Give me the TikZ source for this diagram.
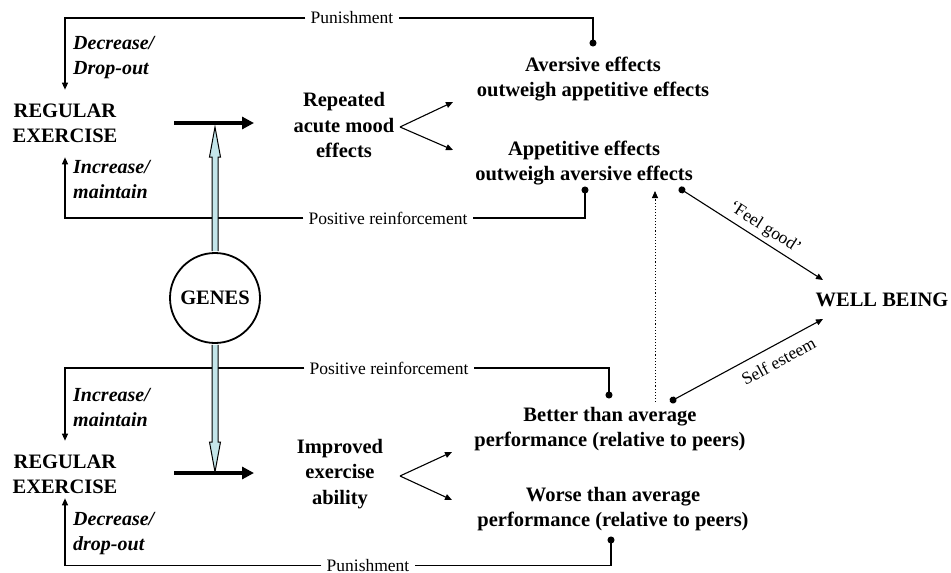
\documentclass[tikz,border=0pt]{standalone}
\usepackage{fontspec}
\setmainfont{Liberation Serif}
\usetikzlibrary{arrows.meta,calc}

\definecolor{geneblue}{RGB}{196,230,234}

\tikzset{
  bold/.style={font=\fontsize{20.5}{25.5}\selectfont\bfseries, align=center, inner sep=0pt},
  exer/.style={bold, inner ysep=14pt},
  change/.style={font=\fontsize{20}{25}\selectfont\bfseries\itshape, align=left, anchor=west, inner sep=0pt},
  lab/.style={font=\fontsize{17.5}{20}\selectfont, inner sep=5pt},
  feed/.style={line width=1.1pt, -{Triangle[length=7pt,width=6pt]}},
  dotline/.style={line width=1.1pt, {Circle[length=7pt]}-},
  dotarrow/.style={line width=1.1pt, {Circle[length=7pt]}-{Triangle[length=7pt,width=6pt]}},
  fat/.style={line width=4.5pt, -{Triangle[length=12pt,width=12pt]}},
  genearrow/.style={fill=geneblue, draw=black, line width=1pt},
}

\begin{document}
\begin{tikzpicture}[x=1pt, y=-1pt]
\useasboundingbox (0,0) rectangle (951,573);
% exercise and how it changes
\node[exer] (ex1) at (65,123.5) {REGULAR\\EXERCISE};
\node[exer] (ex2) at (65,474.5) {REGULAR\\EXERCISE};
\node[change] (dec1) at (73,57.5) {Decrease/\\Drop-out};
\node[change] (inc1) at (73,180) {Increase/\\maintain};
\node[change] (inc2) at (73,408) {Increase/\\maintain};
\node[change] (dec2) at (73,534) {Decrease/\\drop-out};
% effects
\node[bold] (mood) at (344,125) {Repeated\\acute mood\\effects};
\node[bold] (abil) at (340,474) {Improved\\exercise\\ability};
\node[bold] (avers) at (593,79) {Aversive effects\\outweigh appetitive effects};
\node[bold] (appet) at (584,163) {Appetitive effects\\outweigh aversive effects};
\node[bold] (better) at (610,429) {Better than average\\performance (relative to peers)};
\node[bold] (worse) at (613,509) {Worse than average\\performance (relative to peers)};
\node[bold] (well) at (882,300) {WELL BEING};
% labels on the feedback lines
\node[lab] (pun1) at (352,18) {Punishment};
\node[lab] (pos1) at (388,218) {Positive reinforcement};
\node[lab] (pos2) at (389,368) {Positive reinforcement};
\node[lab] (pun2) at (368,565.5) {Punishment};
% ends of the connectors
\coordinate (av-d) at (593,46.5);
\coordinate (ap-d) at (585,186.5);
\coordinate (ap-d2) at (679,188);
\coordinate (ap-dn) at (655,191);
\coordinate (bt-d) at (609,398.5);
\coordinate (bt-d2) at (670,401.7);
\coordinate (bt-up) at (655,402);
\coordinate (wo-d) at (611,536.5);
\coordinate (mood-o) at (400,127);
\coordinate (av-in) at (453,102);
\coordinate (ap-in) at (453,150);
\coordinate (abil-o) at (400,476);
\coordinate (bt-in) at (452,452);
\coordinate (wo-in) at (452,500);
\coordinate (wb-a) at (823,280);
\coordinate (wb-b) at (823,319);
\coordinate (fat1-s) at (174,123);
\coordinate (fat1-e) at (254,123);
\coordinate (fat2-s) at (174,473);
\coordinate (fat2-e) at (254,473);
\coordinate (g-up) at (215,127);
\coordinate (g-dn) at (215,472);
% feedback loops
\draw[dotline] (av-d) |- (pun1.east);
\draw[feed] (pun1.west) -| (ex1.north);
\draw[dotline] (ap-d) |- (pos1.east);
\draw[feed] (pos1.west) -| (ex1.south);
\draw[dotline] (bt-d) |- (pos2.east);
\draw[feed] (pos2.west) -| (ex2.north);
\draw[dotline] (wo-d) |- (pun2.east);
\draw[feed] (pun2.west) -| ([yshift=10pt]ex2.south);
% forks
\draw[feed] (mood-o) -- (av-in);
\draw[feed] (mood-o) -- (ap-in);
\draw[feed] (abil-o) -- (bt-in);
\draw[feed] (abil-o) -- (wo-in);
\draw[fat] (fat1-s) -- (fat1-e);
\draw[fat] (fat2-s) -- (fat2-e);
% well being
\draw[dotarrow] (ap-d2) -- node[lab, sloped, above, inner sep=4pt, pos=0.55] {`Feel good'} (wb-a);
\draw[dotarrow] (bt-d2) -- node[lab, sloped, below, inner sep=9pt, pos=0.66] {Self esteem} (wb-b);
\draw[feed, dotted, line width=0.8pt] (bt-up) -- (ap-dn);
% genes
\node[circle, draw, line width=1.8pt, minimum size=90pt, inner sep=0pt, fill=white,
      font=\fontsize{20.5}{25.5}\selectfont\bfseries] (genes) at (215,298) {GENES};
\filldraw[genearrow] ($(genes.north)+(-3,-0.9)$) -- ($(g-up)+(-3,30)$) -- ($(g-up)+(-5.5,30)$)
  -- (g-up) -- ($(g-up)+(5.5,30)$) -- ($(g-up)+(3,30)$) -- ($(genes.north)+(3,-0.9)$);
\filldraw[genearrow] ($(genes.south)+(-3,0.9)$) -- ($(g-dn)+(-3,-30)$) -- ($(g-dn)+(-5.5,-30)$)
  -- (g-dn) -- ($(g-dn)+(5.5,-30)$) -- ($(g-dn)+(3,-30)$) -- ($(genes.south)+(3,0.9)$);
\end{tikzpicture}
\end{document}
